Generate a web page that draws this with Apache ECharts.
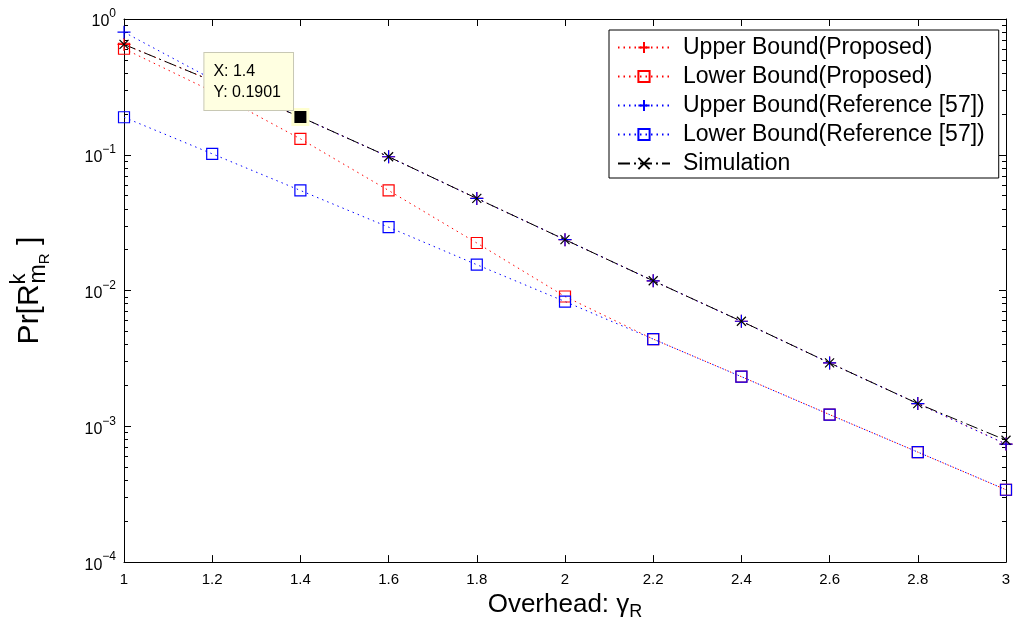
<!DOCTYPE html>
<html>
<head>
<meta charset="utf-8">
<script src="https://cdn.jsdelivr.net/npm/echarts@6/dist/echarts.min.js"></script>
<style>html,body{margin:0;padding:0;background:#fff}#c{width:1016px;height:626px}</style>
</head>
<body>
<div id="c"></div>
<script>
const xs = [1.0, 1.2, 1.4, 1.6, 1.8, 2.0, 2.2, 2.4, 2.6, 2.8, 3.0];
const upperProposed = [0.65, 0.35, 0.19, 0.0967, 0.0477, 0.0237, 0.0118, 0.00594, 0.00293, 0.00147, 0.00074];
const lowerProposed = [0.604, 0.293, 0.131, 0.0546, 0.0224, 0.00904, 0.00439, 0.00232, 0.00122, 0.000646, 0.000341];
const upperReference = [0.80, 0.36, 0.19, 0.0967, 0.0477, 0.0237, 0.0118, 0.00594, 0.00293, 0.00147, 0.00074];
const lowerReference = [0.189, 0.1016, 0.0546, 0.0293, 0.0155, 0.0083, 0.00439, 0.00232, 0.00122, 0.000646, 0.000341];
const simulation = [0.65, 0.35, 0.1901, 0.0967, 0.0477, 0.0237, 0.0118, 0.00594, 0.00293, 0.00147, 0.00079];
const seriesNames = ['Upper Bound(Proposed)', 'Lower Bound(Proposed)', 'Upper Bound(Reference [57])', 'Lower Bound(Reference [57])', 'Simulation'];
const tipIndex = 2;

const FONT = "'Liberation Sans', Arial, Helvetica, sans-serif";
const PLUS = 'path://M0,5L10,5M5,0L5,10';
const CROSS = 'path://M0,0L10,10M10,0L0,10';
const minorTicks = [];
for (let e = -4; e < 0; e++) for (let m = 2; m <= 9; m++) minorTicks.push(m * Math.pow(10, e));

function pairs(arr) { return xs.map((x, i) => [x, arr[i]]); }
function mkSeries(name, data, color, symbol, size, dash) {
  return {
    name, type: 'line', data: pairs(data), symbol, symbolSize: size,
    lineStyle: { color, width: 1, type: dash },
    itemStyle: { color: 'rgba(0,0,0,0)', borderColor: color, borderWidth: 1.2 },
    emphasis: { disabled: true }, animation: false
  };
}
const supFmt = v => '{b|10}{s|' + String(Math.round(Math.log10(v))).replace('-', '\u2212') + '}';

const chart = echarts.init(document.getElementById('c'), null, { renderer: 'canvas' });
const sim = mkSeries(seriesNames[4], simulation, '#000', CROSS, 9, [12, 4, 2, 4]);
sim.markPoint = {
  symbol: 'rect', symbolSize: 15,
  itemStyle: { color: '#000', borderColor: '#ffffd0', borderWidth: 3 },
  data: [{ coord: [xs[tipIndex], simulation[tipIndex]] }],
  label: {
    show: true,
    formatter: p => 'X: ' + p.data.coord[0] + '\nY: ' + p.data.coord[1],
    position: [-87, -55], align: 'left', verticalAlign: 'top',
    backgroundColor: '#ffffe1', borderColor: '#c8c8b4', borderWidth: 1,
    padding: [8, 12, 7, 9], color: '#000', fontSize: 16, lineHeight: 21, fontFamily: FONT
  },
  animation: false
};

const axisCommon = {
  axisLine: { show: true, lineStyle: { color: '#000', width: 1 } },
  splitLine: { show: false }
};

chart.setOption({
  backgroundColor: '#fff',
  animation: false,
  textStyle: { fontFamily: FONT },
  grid: { left: 121, right: 10, top: 19, bottom: 60, containLabel: false },
  legend: {
    orient: 'vertical', left: 609, top: 30,
    backgroundColor: '#fff', borderColor: '#000', borderWidth: 1,
    padding: [6, 14, 3, 8], itemGap: 6, itemWidth: 52, itemHeight: 14,
    textStyle: { fontSize: 23, color: '#000', fontFamily: FONT, padding: [0, 0, 0, 8] },
    data: seriesNames
  },
  xAxis: [
    Object.assign({}, axisCommon, {
      type: 'value', min: 1, max: 3, interval: 0.2, position: 'bottom',
      axisTick: { show: true, inside: true, length: 7, lineStyle: { color: '#000' } },
      axisLabel: { color: '#000', fontSize: 15, margin: 10, fontFamily: FONT },
      name: '{n|Overhead: \u03b3}{sub|R}', nameLocation: 'middle', nameGap: 25,
      nameTextStyle: { rich: {
        n: { fontSize: 26, color: '#000', fontFamily: FONT, lineHeight: 30 },
        sub: { fontSize: 18, color: '#000', fontFamily: FONT, verticalAlign: 'bottom', padding: [14, 0, 0, 0] }
      } }
    }),
    Object.assign({}, axisCommon, {
      type: 'value', min: 1, max: 3, interval: 0.2, position: 'top',
      axisTick: { show: true, inside: true, length: 7, lineStyle: { color: '#000' } },
      axisLabel: { show: false }
    })
  ],
  yAxis: [
    Object.assign({}, axisCommon, {
      type: 'log', logBase: 10, min: 1e-4, max: 1, position: 'left',
      axisTick: { show: true, inside: true, length: 7, lineStyle: { color: '#000' } },
      axisLabel: { color: '#000', margin: 8, formatter: supFmt, rich: {
        b: { fontSize: 16, color: '#000', fontFamily: FONT, lineHeight: 22, verticalAlign: 'bottom' },
        s: { fontSize: 12, color: '#000', fontFamily: FONT, verticalAlign: 'top' }
      } },
      name: '{n|Pr[R}{sup|k}{sub|m}{subsub|R}{n| ]}', nameLocation: 'middle', nameGap: 72, nameRotate: 90,
      nameTextStyle: { rich: {
        n: { fontSize: 30, color: '#000', fontFamily: FONT, lineHeight: 44, align: 'left' },
        sup: { fontSize: 22, color: '#000', fontFamily: FONT, verticalAlign: 'top', width: 1, align: 'left' },
        sub: { fontSize: 23, color: '#000', fontFamily: FONT, verticalAlign: 'bottom', padding: [0, 0, 2, 0], align: 'left' },
        subsub: { fontSize: 15, color: '#000', fontFamily: FONT, verticalAlign: 'bottom', align: 'left' }
      } }
    }),
    Object.assign({}, axisCommon, {
      type: 'log', logBase: 10, min: 1e-4, max: 1, position: 'right',
      axisTick: { show: true, inside: true, length: 7, lineStyle: { color: '#000' } },
      axisLabel: { show: false }
    }),
    {
      type: 'log', logBase: 10, min: 1e-4, max: 1, position: 'left', axisLine: { show: false },
      splitLine: { show: false }, axisLabel: { show: false },
      axisTick: { show: true, inside: true, length: 4, customValues: minorTicks, lineStyle: { color: '#000' } }
    },
    {
      type: 'log', logBase: 10, min: 1e-4, max: 1, position: 'right', axisLine: { show: false },
      splitLine: { show: false }, axisLabel: { show: false },
      axisTick: { show: true, inside: true, length: 4, customValues: minorTicks, lineStyle: { color: '#000' } }
    }
  ],
  series: [
    mkSeries(seriesNames[0], upperProposed, '#ff0000', PLUS, 13, [1.5, 4]),
    mkSeries(seriesNames[1], lowerProposed, '#ff0000', 'rect', 11, [1.5, 4]),
    mkSeries(seriesNames[2], upperReference, '#0000ff', PLUS, 13, [1.5, 4]),
    mkSeries(seriesNames[3], lowerReference, '#0000ff', 'rect', 11, [1.5, 4]),
    sim
  ]
});
</script>
</body>
</html>
